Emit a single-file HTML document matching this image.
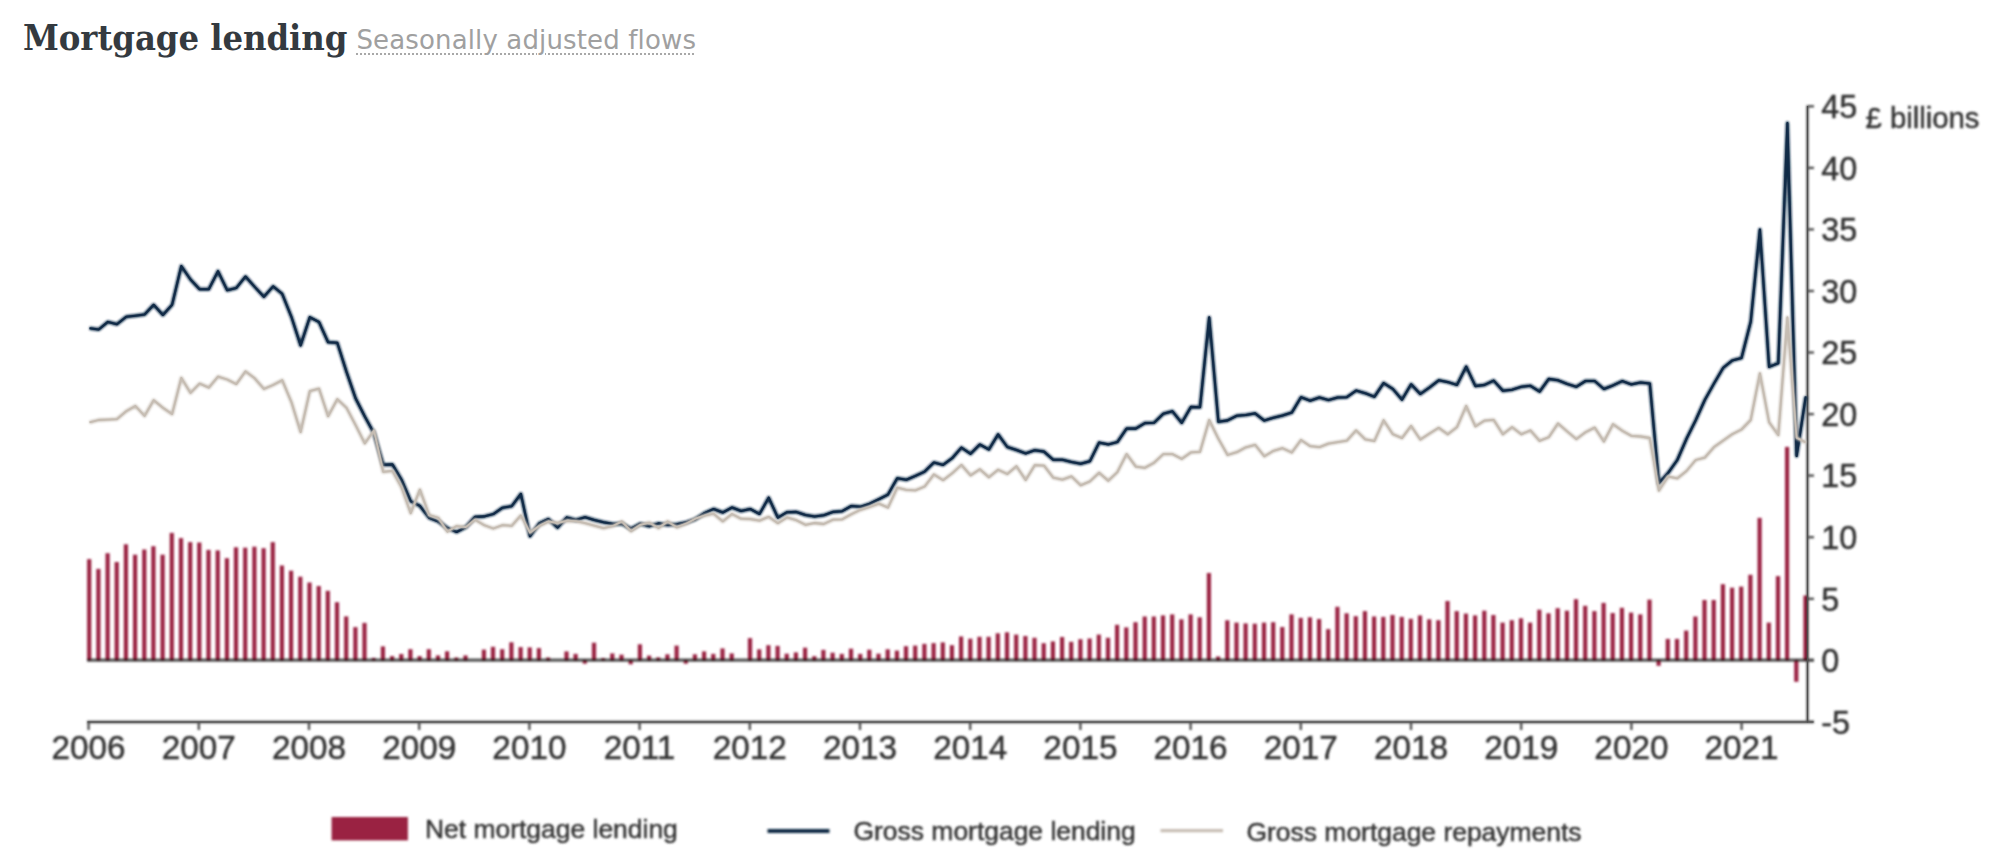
<!DOCTYPE html>
<html lang="en"><head><meta charset="utf-8"><title>Mortgage lending</title>
<style>
html,body{margin:0;padding:0;background:#fff;}
body{width:2002px;height:868px;position:relative;overflow:hidden;font-family:"Liberation Sans",Arial,sans-serif;}
h2{position:absolute;left:23px;top:11.5px;margin:0;font-family:"DejaVu Serif Condensed","DejaVu Serif","Liberation Serif",serif;font-stretch:condensed;font-weight:bold;font-size:36px;line-height:50px;color:#343a40;white-space:nowrap;letter-spacing:-0.05px;}
h2 small{font-family:"DejaVu Sans","Liberation Sans",sans-serif;font-stretch:normal;font-weight:normal;font-size:26px;color:#a0a0a0;letter-spacing:0.14px;position:relative;top:-0.5px;text-decoration:underline dotted #a8a8a8;text-decoration-thickness:1.5px;text-underline-offset:4px;margin-left:9px;}
svg{position:absolute;left:0;top:0;}
svg text{font-family:"Liberation Sans",Arial,sans-serif;fill:#333;stroke:#333;stroke-width:0.45px;}
</style></head><body>
<h2>Mortgage lending<small>Seasonally adjusted flows</small></h2>
<svg width="2002" height="868" viewBox="0 0 2002 868">
<g id="chart" filter="url(#soft)">
<g stroke="#4a4a4a" stroke-width="2.3" fill="none">
<line x1="87" y1="660.1999999999999" x2="1814" y2="660.1999999999999" stroke-width="3.3" stroke="#585858"/>
<line x1="87" y1="722" x2="1814" y2="722"/>
<line x1="1807.5" y1="105.5" x2="1807.5" y2="723"/>
<line x1="88.6" y1="722" x2="88.6" y2="730"/><line x1="198.8" y1="722" x2="198.8" y2="730"/><line x1="309.0" y1="722" x2="309.0" y2="730"/><line x1="419.2" y1="722" x2="419.2" y2="730"/><line x1="529.4" y1="722" x2="529.4" y2="730"/><line x1="639.6" y1="722" x2="639.6" y2="730"/><line x1="749.8" y1="722" x2="749.8" y2="730"/><line x1="860.0" y1="722" x2="860.0" y2="730"/><line x1="970.2" y1="722" x2="970.2" y2="730"/><line x1="1080.4" y1="722" x2="1080.4" y2="730"/><line x1="1190.6" y1="722" x2="1190.6" y2="730"/><line x1="1300.8" y1="722" x2="1300.8" y2="730"/><line x1="1411.0" y1="722" x2="1411.0" y2="730"/><line x1="1521.2" y1="722" x2="1521.2" y2="730"/><line x1="1631.4" y1="722" x2="1631.4" y2="730"/><line x1="1741.6" y1="722" x2="1741.6" y2="730"/>
<line x1="1807.5" y1="721.8" x2="1814" y2="721.8"/><line x1="1807.5" y1="660.3" x2="1814" y2="660.3"/><line x1="1807.5" y1="598.8" x2="1814" y2="598.8"/><line x1="1807.5" y1="537.2" x2="1814" y2="537.2"/><line x1="1807.5" y1="475.6" x2="1814" y2="475.6"/><line x1="1807.5" y1="414.1" x2="1814" y2="414.1"/><line x1="1807.5" y1="352.5" x2="1814" y2="352.5"/><line x1="1807.5" y1="291.0" x2="1814" y2="291.0"/><line x1="1807.5" y1="229.4" x2="1814" y2="229.4"/><line x1="1807.5" y1="167.9" x2="1814" y2="167.9"/><line x1="1807.5" y1="106.3" x2="1814" y2="106.3"/>
</g>
<g fill="#9a2443" style="mix-blend-mode:multiply"><rect x="87.1" y="559.1" width="4.2" height="101.7"/><rect x="96.3" y="568.9" width="4.2" height="91.9"/><rect x="105.5" y="553.2" width="4.2" height="107.6"/><rect x="114.6" y="562.0" width="4.2" height="98.8"/><rect x="123.8" y="544.3" width="4.2" height="116.5"/><rect x="133.0" y="554.7" width="4.2" height="106.1"/><rect x="142.2" y="549.5" width="4.2" height="111.3"/><rect x="151.3" y="546.2" width="4.2" height="114.6"/><rect x="160.5" y="554.7" width="4.2" height="106.1"/><rect x="169.7" y="532.9" width="4.2" height="127.9"/><rect x="178.9" y="538.1" width="4.2" height="122.7"/><rect x="188.1" y="542.1" width="4.2" height="118.7"/><rect x="197.2" y="542.5" width="4.2" height="118.3"/><rect x="206.4" y="549.9" width="4.2" height="110.9"/><rect x="215.6" y="550.4" width="4.2" height="110.4"/><rect x="224.8" y="558.2" width="4.2" height="102.6"/><rect x="233.9" y="547.3" width="4.2" height="113.5"/><rect x="243.1" y="547.7" width="4.2" height="113.1"/><rect x="252.3" y="546.7" width="4.2" height="114.1"/><rect x="261.5" y="548.2" width="4.2" height="112.6"/><rect x="270.7" y="542.1" width="4.2" height="118.7"/><rect x="279.8" y="565.5" width="4.2" height="95.3"/><rect x="289.0" y="570.7" width="4.2" height="90.1"/><rect x="298.2" y="576.7" width="4.2" height="84.1"/><rect x="307.4" y="582.5" width="4.2" height="78.3"/><rect x="316.6" y="586.0" width="4.2" height="74.8"/><rect x="325.7" y="590.8" width="4.2" height="70.0"/><rect x="334.9" y="602.2" width="4.2" height="58.6"/><rect x="344.1" y="616.4" width="4.2" height="44.4"/><rect x="353.3" y="627.1" width="4.2" height="33.7"/><rect x="362.4" y="622.9" width="4.2" height="37.9"/><rect x="371.6" y="657.9" width="4.2" height="2.9"/><rect x="380.8" y="646.4" width="4.2" height="14.4"/><rect x="390.0" y="656.1" width="4.2" height="4.7"/><rect x="399.2" y="654.0" width="4.2" height="6.8"/><rect x="408.3" y="649.2" width="4.2" height="11.6"/><rect x="417.5" y="656.1" width="4.2" height="4.7"/><rect x="426.7" y="649.2" width="4.2" height="11.6"/><rect x="435.9" y="655.4" width="4.2" height="5.4"/><rect x="445.0" y="651.3" width="4.2" height="9.5"/><rect x="454.2" y="657.5" width="4.2" height="3.3"/><rect x="463.4" y="655.4" width="4.2" height="5.4"/><rect x="481.8" y="649.6" width="4.2" height="11.2"/><rect x="490.9" y="646.8" width="4.2" height="14.0"/><rect x="500.1" y="649.2" width="4.2" height="11.6"/><rect x="509.3" y="642.3" width="4.2" height="18.5"/><rect x="518.5" y="647.1" width="4.2" height="13.7"/><rect x="527.6" y="647.4" width="4.2" height="13.4"/><rect x="536.8" y="648.1" width="4.2" height="12.7"/><rect x="546.0" y="657.5" width="4.2" height="3.3"/><rect x="564.4" y="651.4" width="4.2" height="9.4"/><rect x="573.5" y="653.9" width="4.2" height="6.9"/><rect x="582.7" y="659.8" width="4.2" height="3.9"/><rect x="591.9" y="642.7" width="4.2" height="18.1"/><rect x="601.1" y="658.1" width="4.2" height="2.7"/><rect x="610.2" y="653.4" width="4.2" height="7.4"/><rect x="619.4" y="654.7" width="4.2" height="6.1"/><rect x="628.6" y="659.8" width="4.2" height="4.5"/><rect x="637.8" y="644.3" width="4.2" height="16.5"/><rect x="647.0" y="655.6" width="4.2" height="5.2"/><rect x="656.1" y="657.4" width="4.2" height="3.4"/><rect x="665.3" y="654.3" width="4.2" height="6.5"/><rect x="674.5" y="645.6" width="4.2" height="15.2"/><rect x="683.7" y="659.8" width="4.2" height="3.9"/><rect x="692.8" y="654.3" width="4.2" height="6.5"/><rect x="702.0" y="651.4" width="4.2" height="9.4"/><rect x="711.2" y="653.9" width="4.2" height="6.9"/><rect x="720.4" y="648.4" width="4.2" height="12.4"/><rect x="729.6" y="653.4" width="4.2" height="7.4"/><rect x="747.9" y="638.1" width="4.2" height="22.7"/><rect x="757.1" y="649.3" width="4.2" height="11.5"/><rect x="766.3" y="645.2" width="4.2" height="15.6"/><rect x="775.5" y="645.9" width="4.2" height="14.9"/><rect x="784.6" y="653.7" width="4.2" height="7.1"/><rect x="793.8" y="652.4" width="4.2" height="8.4"/><rect x="803.0" y="647.7" width="4.2" height="13.1"/><rect x="812.2" y="656.2" width="4.2" height="4.6"/><rect x="821.3" y="649.9" width="4.2" height="10.9"/><rect x="830.5" y="652.7" width="4.2" height="8.1"/><rect x="839.7" y="653.9" width="4.2" height="6.9"/><rect x="848.9" y="648.7" width="4.2" height="12.1"/><rect x="858.1" y="653.9" width="4.2" height="6.9"/><rect x="867.2" y="649.7" width="4.2" height="11.1"/><rect x="876.4" y="653.7" width="4.2" height="7.1"/><rect x="885.6" y="649.3" width="4.2" height="11.5"/><rect x="894.8" y="650.6" width="4.2" height="10.2"/><rect x="903.9" y="646.2" width="4.2" height="14.6"/><rect x="913.1" y="645.6" width="4.2" height="15.2"/><rect x="922.3" y="643.9" width="4.2" height="16.9"/><rect x="931.5" y="643.1" width="4.2" height="17.7"/><rect x="940.7" y="642.4" width="4.2" height="18.4"/><rect x="949.8" y="645.2" width="4.2" height="15.6"/><rect x="959.0" y="636.5" width="4.2" height="24.3"/><rect x="968.2" y="638.7" width="4.2" height="22.1"/><rect x="977.4" y="636.8" width="4.2" height="24.0"/><rect x="986.5" y="636.8" width="4.2" height="24.0"/><rect x="995.7" y="633.3" width="4.2" height="27.5"/><rect x="1004.9" y="632.3" width="4.2" height="28.5"/><rect x="1014.1" y="634.6" width="4.2" height="26.2"/><rect x="1023.3" y="636.0" width="4.2" height="24.8"/><rect x="1032.4" y="637.8" width="4.2" height="23.0"/><rect x="1041.6" y="643.2" width="4.2" height="17.6"/><rect x="1050.8" y="641.4" width="4.2" height="19.4"/><rect x="1060.0" y="637.0" width="4.2" height="23.8"/><rect x="1069.1" y="641.8" width="4.2" height="19.0"/><rect x="1078.3" y="639.2" width="4.2" height="21.6"/><rect x="1087.5" y="638.5" width="4.2" height="22.3"/><rect x="1096.7" y="634.6" width="4.2" height="26.2"/><rect x="1105.9" y="637.8" width="4.2" height="23.0"/><rect x="1115.0" y="624.8" width="4.2" height="36.0"/><rect x="1124.2" y="627.4" width="4.2" height="33.4"/><rect x="1133.4" y="622.2" width="4.2" height="38.6"/><rect x="1142.6" y="616.5" width="4.2" height="44.3"/><rect x="1151.7" y="616.5" width="4.2" height="44.3"/><rect x="1160.9" y="615.4" width="4.2" height="45.4"/><rect x="1170.1" y="614.4" width="4.2" height="46.4"/><rect x="1179.3" y="619.3" width="4.2" height="41.5"/><rect x="1188.5" y="614.4" width="4.2" height="46.4"/><rect x="1197.6" y="617.3" width="4.2" height="43.5"/><rect x="1206.8" y="573.0" width="4.2" height="87.8"/><rect x="1216.0" y="656.5" width="4.2" height="4.3"/><rect x="1225.2" y="620.3" width="4.2" height="40.5"/><rect x="1234.4" y="622.6" width="4.2" height="38.2"/><rect x="1243.5" y="623.4" width="4.2" height="37.4"/><rect x="1252.7" y="623.7" width="4.2" height="37.1"/><rect x="1261.9" y="622.6" width="4.2" height="38.2"/><rect x="1271.1" y="622.2" width="4.2" height="38.6"/><rect x="1280.2" y="627.0" width="4.2" height="33.8"/><rect x="1289.4" y="614.4" width="4.2" height="46.4"/><rect x="1298.6" y="617.9" width="4.2" height="42.9"/><rect x="1307.8" y="617.3" width="4.2" height="43.5"/><rect x="1317.0" y="619.0" width="4.2" height="41.8"/><rect x="1326.1" y="629.1" width="4.2" height="31.7"/><rect x="1335.3" y="606.8" width="4.2" height="54.0"/><rect x="1344.5" y="613.3" width="4.2" height="47.5"/><rect x="1353.7" y="616.2" width="4.2" height="44.6"/><rect x="1362.8" y="611.1" width="4.2" height="49.7"/><rect x="1372.0" y="616.5" width="4.2" height="44.3"/><rect x="1381.2" y="616.9" width="4.2" height="43.9"/><rect x="1390.4" y="615.0" width="4.2" height="45.8"/><rect x="1399.6" y="616.9" width="4.2" height="43.9"/><rect x="1408.7" y="618.8" width="4.2" height="42.0"/><rect x="1417.9" y="615.4" width="4.2" height="45.4"/><rect x="1427.1" y="619.3" width="4.2" height="41.5"/><rect x="1436.3" y="620.2" width="4.2" height="40.6"/><rect x="1445.4" y="601.0" width="4.2" height="59.8"/><rect x="1454.6" y="611.1" width="4.2" height="49.7"/><rect x="1463.8" y="613.6" width="4.2" height="47.2"/><rect x="1473.0" y="615.4" width="4.2" height="45.4"/><rect x="1482.2" y="610.7" width="4.2" height="50.1"/><rect x="1491.3" y="615.0" width="4.2" height="45.8"/><rect x="1500.5" y="622.6" width="4.2" height="38.2"/><rect x="1509.7" y="620.2" width="4.2" height="40.6"/><rect x="1518.9" y="618.3" width="4.2" height="42.5"/><rect x="1528.0" y="622.6" width="4.2" height="38.2"/><rect x="1537.2" y="609.7" width="4.2" height="51.1"/><rect x="1546.4" y="613.3" width="4.2" height="47.5"/><rect x="1555.6" y="608.2" width="4.2" height="52.6"/><rect x="1564.8" y="610.7" width="4.2" height="50.1"/><rect x="1573.9" y="599.2" width="4.2" height="61.6"/><rect x="1583.1" y="605.8" width="4.2" height="55.0"/><rect x="1592.3" y="611.1" width="4.2" height="49.7"/><rect x="1601.5" y="602.9" width="4.2" height="57.9"/><rect x="1610.6" y="613.0" width="4.2" height="47.8"/><rect x="1619.8" y="607.8" width="4.2" height="53.0"/><rect x="1629.0" y="612.6" width="4.2" height="48.2"/><rect x="1638.2" y="614.4" width="4.2" height="46.4"/><rect x="1647.4" y="599.6" width="4.2" height="61.2"/><rect x="1656.5" y="659.8" width="4.2" height="6.0"/><rect x="1665.7" y="638.9" width="4.2" height="21.9"/><rect x="1674.9" y="638.9" width="4.2" height="21.9"/><rect x="1684.1" y="630.6" width="4.2" height="30.2"/><rect x="1693.3" y="616.5" width="4.2" height="44.3"/><rect x="1702.4" y="600.0" width="4.2" height="60.8"/><rect x="1711.6" y="600.0" width="4.2" height="60.8"/><rect x="1720.8" y="584.2" width="4.2" height="76.6"/><rect x="1730.0" y="587.7" width="4.2" height="73.1"/><rect x="1739.1" y="586.6" width="4.2" height="74.2"/><rect x="1748.3" y="574.8" width="4.2" height="86.0"/><rect x="1757.5" y="517.9" width="4.2" height="142.9"/><rect x="1766.7" y="622.6" width="4.2" height="38.2"/><rect x="1775.9" y="576.1" width="4.2" height="84.7"/><rect x="1785.0" y="446.9" width="4.2" height="213.9"/><rect x="1794.2" y="659.8" width="4.2" height="22.0"/><rect x="1803.4" y="595.5" width="4.2" height="65.3"/></g>
</g>
<g stroke="#505050" stroke-width="1.2" fill="none">
<line x1="87.5" y1="722" x2="1813.5" y2="722"/>
<line x1="1807.5" y1="106" x2="1807.5" y2="722.5"/>
</g>
<g filter="url(#soft)"><path d="M89.5,328.3 L98.7,329.5 L107.9,321.9 L117.0,324.2 L126.2,316.8 L135.4,315.7 L144.6,314.5 L153.7,304.8 L162.9,315.0 L172.1,304.8 L181.3,266.1 L190.5,279.5 L199.6,289.2 L208.8,289.2 L218.0,271.2 L227.2,290.3 L236.3,288.0 L245.5,276.5 L254.7,286.9 L263.9,296.8 L273.1,286.4 L282.2,293.8 L291.4,316.8 L300.6,345.4 L309.8,317.2 L319.0,322.0 L328.1,342.3 L337.3,342.8 L346.5,371.9 L355.7,398.6 L364.8,416.5 L374.0,433.3 L383.2,464.7 L392.4,464.4 L401.6,480.0 L410.7,501.2 L419.9,505.9 L429.1,517.8 L438.3,521.5 L447.4,528.0 L456.6,532.0 L465.8,527.1 L475.0,516.9 L484.2,516.4 L493.3,514.1 L502.5,507.7 L511.7,506.2 L520.9,493.9 L530.0,536.3 L539.2,523.4 L548.4,519.0 L557.6,527.6 L566.8,517.4 L575.9,520.0 L585.1,517.2 L594.3,520.0 L603.5,522.2 L612.6,523.9 L621.8,523.7 L631.0,528.7 L640.2,523.7 L649.4,526.2 L658.5,523.4 L667.7,524.9 L676.9,524.3 L686.1,522.4 L695.2,519.3 L704.4,513.1 L713.6,509.0 L722.8,512.5 L732.0,507.5 L741.1,511.0 L750.3,509.0 L759.5,514.0 L768.7,497.7 L777.9,517.7 L787.0,512.2 L796.2,511.9 L805.4,515.0 L814.6,516.5 L823.7,515.3 L832.9,511.9 L842.1,511.2 L851.3,506.0 L860.5,506.8 L869.6,503.8 L878.8,499.2 L888.0,494.6 L897.2,478.3 L906.3,479.8 L915.5,475.9 L924.7,471.6 L933.9,462.5 L943.1,464.9 L952.2,458.2 L961.4,447.6 L970.6,453.8 L979.8,444.5 L988.9,449.5 L998.1,434.4 L1007.3,447.0 L1016.5,450.0 L1025.7,453.4 L1034.8,450.2 L1044.0,451.6 L1053.2,459.8 L1062.4,459.8 L1071.5,462.0 L1080.7,463.7 L1089.9,461.3 L1099.1,442.6 L1108.3,444.4 L1117.4,442.1 L1126.6,428.6 L1135.8,428.6 L1145.0,423.1 L1154.1,422.8 L1163.3,413.8 L1172.5,411.3 L1181.7,422.9 L1190.9,406.9 L1200.0,407.2 L1209.2,317.4 L1218.4,421.8 L1227.6,420.4 L1236.8,415.7 L1245.9,415.0 L1255.1,413.4 L1264.3,420.6 L1273.5,417.7 L1282.6,415.5 L1291.8,412.6 L1301.0,397.2 L1310.2,400.7 L1319.4,397.5 L1328.5,400.1 L1337.7,397.5 L1346.9,397.2 L1356.1,390.6 L1365.2,393.2 L1374.4,396.8 L1383.6,383.1 L1392.8,388.9 L1402.0,399.7 L1411.1,384.3 L1420.3,394.0 L1429.5,387.5 L1438.7,380.3 L1447.8,382.1 L1457.0,384.9 L1466.2,366.6 L1475.4,386.1 L1484.6,384.9 L1493.7,380.6 L1502.9,390.7 L1512.1,389.7 L1521.3,386.8 L1530.4,385.8 L1539.6,391.6 L1548.8,378.9 L1558.0,380.3 L1567.2,383.9 L1576.3,386.8 L1585.5,381.0 L1594.7,381.0 L1603.9,389.0 L1613.0,385.4 L1622.2,381.1 L1631.4,384.4 L1640.6,382.5 L1649.8,383.5 L1658.9,483.3 L1668.1,472.9 L1677.3,460.0 L1686.5,438.8 L1695.7,420.3 L1704.8,400.0 L1714.0,383.5 L1723.2,367.8 L1732.4,360.4 L1741.5,358.0 L1750.7,321.8 L1759.9,229.6 L1769.1,366.9 L1778.3,363.2 L1787.4,123.0 L1796.6,456.0 L1805.8,396.4" fill="none" stroke="#112b47" stroke-width="3.5" stroke-linejoin="round" stroke-linecap="butt"/></g>
<path d="M89.5,328.3 L98.7,329.5 L107.9,321.9 L117.0,324.2 L126.2,316.8 L135.4,315.7 L144.6,314.5 L153.7,304.8 L162.9,315.0 L172.1,304.8 L181.3,266.1 L190.5,279.5 L199.6,289.2 L208.8,289.2 L218.0,271.2 L227.2,290.3 L236.3,288.0 L245.5,276.5 L254.7,286.9 L263.9,296.8 L273.1,286.4 L282.2,293.8 L291.4,316.8 L300.6,345.4 L309.8,317.2 L319.0,322.0 L328.1,342.3 L337.3,342.8 L346.5,371.9 L355.7,398.6 L364.8,416.5 L374.0,433.3 L383.2,464.7 L392.4,464.4 L401.6,480.0 L410.7,501.2 L419.9,505.9 L429.1,517.8 L438.3,521.5 L447.4,528.0 L456.6,532.0 L465.8,527.1 L475.0,516.9 L484.2,516.4 L493.3,514.1 L502.5,507.7 L511.7,506.2 L520.9,493.9 L530.0,536.3 L539.2,523.4 L548.4,519.0 L557.6,527.6 L566.8,517.4 L575.9,520.0 L585.1,517.2 L594.3,520.0 L603.5,522.2 L612.6,523.9 L621.8,523.7 L631.0,528.7 L640.2,523.7 L649.4,526.2 L658.5,523.4 L667.7,524.9 L676.9,524.3 L686.1,522.4 L695.2,519.3 L704.4,513.1 L713.6,509.0 L722.8,512.5 L732.0,507.5 L741.1,511.0 L750.3,509.0 L759.5,514.0 L768.7,497.7 L777.9,517.7 L787.0,512.2 L796.2,511.9 L805.4,515.0 L814.6,516.5 L823.7,515.3 L832.9,511.9 L842.1,511.2 L851.3,506.0 L860.5,506.8 L869.6,503.8 L878.8,499.2 L888.0,494.6 L897.2,478.3 L906.3,479.8 L915.5,475.9 L924.7,471.6 L933.9,462.5 L943.1,464.9 L952.2,458.2 L961.4,447.6 L970.6,453.8 L979.8,444.5 L988.9,449.5 L998.1,434.4 L1007.3,447.0 L1016.5,450.0 L1025.7,453.4 L1034.8,450.2 L1044.0,451.6 L1053.2,459.8 L1062.4,459.8 L1071.5,462.0 L1080.7,463.7 L1089.9,461.3 L1099.1,442.6 L1108.3,444.4 L1117.4,442.1 L1126.6,428.6 L1135.8,428.6 L1145.0,423.1 L1154.1,422.8 L1163.3,413.8 L1172.5,411.3 L1181.7,422.9 L1190.9,406.9 L1200.0,407.2 L1209.2,317.4 L1218.4,421.8 L1227.6,420.4 L1236.8,415.7 L1245.9,415.0 L1255.1,413.4 L1264.3,420.6 L1273.5,417.7 L1282.6,415.5 L1291.8,412.6 L1301.0,397.2 L1310.2,400.7 L1319.4,397.5 L1328.5,400.1 L1337.7,397.5 L1346.9,397.2 L1356.1,390.6 L1365.2,393.2 L1374.4,396.8 L1383.6,383.1 L1392.8,388.9 L1402.0,399.7 L1411.1,384.3 L1420.3,394.0 L1429.5,387.5 L1438.7,380.3 L1447.8,382.1 L1457.0,384.9 L1466.2,366.6 L1475.4,386.1 L1484.6,384.9 L1493.7,380.6 L1502.9,390.7 L1512.1,389.7 L1521.3,386.8 L1530.4,385.8 L1539.6,391.6 L1548.8,378.9 L1558.0,380.3 L1567.2,383.9 L1576.3,386.8 L1585.5,381.0 L1594.7,381.0 L1603.9,389.0 L1613.0,385.4 L1622.2,381.1 L1631.4,384.4 L1640.6,382.5 L1649.8,383.5 L1658.9,483.3 L1668.1,472.9 L1677.3,460.0 L1686.5,438.8 L1695.7,420.3 L1704.8,400.0 L1714.0,383.5 L1723.2,367.8 L1732.4,360.4 L1741.5,358.0 L1750.7,321.8 L1759.9,229.6 L1769.1,366.9 L1778.3,363.2 L1787.4,123.0 L1796.6,456.0 L1805.8,396.4" fill="none" stroke="#112b47" stroke-width="2.1" stroke-linejoin="round" stroke-linecap="butt"/>
<g filter="url(#soft)"><path d="M89.5,422.4 L98.7,420.0 L107.9,419.6 L117.0,419.1 L126.2,411.3 L135.4,406.0 L144.6,415.9 L153.7,400.2 L162.9,407.8 L172.1,414.1 L181.3,377.9 L190.5,392.9 L199.6,383.6 L208.8,387.6 L218.0,376.7 L227.2,379.5 L236.3,384.1 L245.5,371.4 L254.7,378.3 L263.9,388.9 L273.1,385.0 L282.2,380.2 L291.4,402.1 L300.6,432.1 L309.8,391.2 L319.0,388.6 L328.1,416.2 L337.3,399.2 L346.5,407.8 L355.7,425.3 L364.8,443.4 L374.0,430.4 L383.2,471.8 L392.4,470.8 L401.6,487.4 L410.7,513.2 L419.9,489.6 L429.1,515.1 L438.3,517.8 L447.4,531.7 L456.6,526.1 L465.8,527.1 L475.0,519.7 L484.2,525.2 L493.3,528.5 L502.5,525.2 L511.7,525.8 L520.9,515.4 L530.0,532.6 L539.2,526.1 L548.4,521.5 L557.6,522.9 L566.8,520.8 L575.9,521.2 L585.1,523.1 L594.3,525.6 L603.5,528.1 L612.6,526.2 L621.8,521.4 L631.0,531.2 L640.2,524.9 L649.4,522.7 L658.5,528.1 L667.7,521.4 L676.9,527.4 L686.1,523.7 L695.2,518.7 L704.4,515.6 L713.6,513.7 L722.8,521.4 L732.0,514.0 L741.1,518.7 L750.3,519.0 L759.5,520.6 L768.7,516.8 L777.9,523.2 L787.0,517.4 L796.2,520.1 L805.4,524.8 L814.6,523.0 L823.7,524.0 L832.9,519.7 L842.1,519.4 L851.3,514.3 L860.5,509.8 L869.6,507.0 L878.8,503.6 L888.0,507.6 L897.2,487.7 L906.3,489.8 L915.5,490.3 L924.7,486.5 L933.9,474.4 L943.1,480.2 L952.2,473.3 L961.4,464.9 L970.6,475.4 L979.8,469.3 L988.9,477.3 L998.1,469.7 L1007.3,474.0 L1016.5,466.3 L1025.7,480.0 L1034.8,465.2 L1044.0,465.6 L1053.2,477.6 L1062.4,479.6 L1071.5,476.4 L1080.7,485.3 L1089.9,481.4 L1099.1,472.8 L1108.3,480.7 L1117.4,472.1 L1126.6,454.1 L1135.8,466.6 L1145.0,467.8 L1154.1,462.7 L1163.3,454.1 L1172.5,454.1 L1181.7,458.9 L1190.9,452.4 L1200.0,451.9 L1209.2,420.0 L1218.4,438.8 L1227.6,455.0 L1236.8,452.2 L1245.9,447.3 L1255.1,444.8 L1264.3,456.3 L1273.5,450.8 L1282.6,448.2 L1291.8,452.5 L1301.0,440.0 L1310.2,446.2 L1319.4,447.2 L1328.5,443.6 L1337.7,442.2 L1346.9,440.7 L1356.1,430.4 L1365.2,439.3 L1374.4,441.0 L1383.6,420.3 L1392.8,434.2 L1402.0,438.1 L1411.1,425.9 L1420.3,439.6 L1429.5,433.6 L1438.7,427.8 L1447.8,434.3 L1457.0,427.1 L1466.2,406.0 L1475.4,426.4 L1484.6,420.6 L1493.7,419.9 L1502.9,434.3 L1512.1,427.1 L1521.3,434.3 L1530.4,430.4 L1539.6,440.8 L1548.8,437.2 L1558.0,423.5 L1567.2,431.4 L1576.3,439.1 L1585.5,432.2 L1594.7,427.6 L1603.9,441.5 L1613.0,424.2 L1622.2,430.7 L1631.4,435.9 L1640.6,436.5 L1649.8,438.0 L1658.9,490.6 L1668.1,476.5 L1677.3,478.4 L1686.5,471.0 L1695.7,460.0 L1704.8,457.6 L1714.0,447.1 L1723.2,440.6 L1732.4,434.1 L1741.5,429.5 L1750.7,420.0 L1759.9,373.3 L1769.1,422.2 L1778.3,435.1 L1787.4,317.5 L1796.6,437.8 L1805.8,442.4" fill="none" stroke="#c6bdb3" stroke-width="3.3" stroke-linejoin="round" stroke-linecap="butt"/></g>
<path d="M89.5,422.4 L98.7,420.0 L107.9,419.6 L117.0,419.1 L126.2,411.3 L135.4,406.0 L144.6,415.9 L153.7,400.2 L162.9,407.8 L172.1,414.1 L181.3,377.9 L190.5,392.9 L199.6,383.6 L208.8,387.6 L218.0,376.7 L227.2,379.5 L236.3,384.1 L245.5,371.4 L254.7,378.3 L263.9,388.9 L273.1,385.0 L282.2,380.2 L291.4,402.1 L300.6,432.1 L309.8,391.2 L319.0,388.6 L328.1,416.2 L337.3,399.2 L346.5,407.8 L355.7,425.3 L364.8,443.4 L374.0,430.4 L383.2,471.8 L392.4,470.8 L401.6,487.4 L410.7,513.2 L419.9,489.6 L429.1,515.1 L438.3,517.8 L447.4,531.7 L456.6,526.1 L465.8,527.1 L475.0,519.7 L484.2,525.2 L493.3,528.5 L502.5,525.2 L511.7,525.8 L520.9,515.4 L530.0,532.6 L539.2,526.1 L548.4,521.5 L557.6,522.9 L566.8,520.8 L575.9,521.2 L585.1,523.1 L594.3,525.6 L603.5,528.1 L612.6,526.2 L621.8,521.4 L631.0,531.2 L640.2,524.9 L649.4,522.7 L658.5,528.1 L667.7,521.4 L676.9,527.4 L686.1,523.7 L695.2,518.7 L704.4,515.6 L713.6,513.7 L722.8,521.4 L732.0,514.0 L741.1,518.7 L750.3,519.0 L759.5,520.6 L768.7,516.8 L777.9,523.2 L787.0,517.4 L796.2,520.1 L805.4,524.8 L814.6,523.0 L823.7,524.0 L832.9,519.7 L842.1,519.4 L851.3,514.3 L860.5,509.8 L869.6,507.0 L878.8,503.6 L888.0,507.6 L897.2,487.7 L906.3,489.8 L915.5,490.3 L924.7,486.5 L933.9,474.4 L943.1,480.2 L952.2,473.3 L961.4,464.9 L970.6,475.4 L979.8,469.3 L988.9,477.3 L998.1,469.7 L1007.3,474.0 L1016.5,466.3 L1025.7,480.0 L1034.8,465.2 L1044.0,465.6 L1053.2,477.6 L1062.4,479.6 L1071.5,476.4 L1080.7,485.3 L1089.9,481.4 L1099.1,472.8 L1108.3,480.7 L1117.4,472.1 L1126.6,454.1 L1135.8,466.6 L1145.0,467.8 L1154.1,462.7 L1163.3,454.1 L1172.5,454.1 L1181.7,458.9 L1190.9,452.4 L1200.0,451.9 L1209.2,420.0 L1218.4,438.8 L1227.6,455.0 L1236.8,452.2 L1245.9,447.3 L1255.1,444.8 L1264.3,456.3 L1273.5,450.8 L1282.6,448.2 L1291.8,452.5 L1301.0,440.0 L1310.2,446.2 L1319.4,447.2 L1328.5,443.6 L1337.7,442.2 L1346.9,440.7 L1356.1,430.4 L1365.2,439.3 L1374.4,441.0 L1383.6,420.3 L1392.8,434.2 L1402.0,438.1 L1411.1,425.9 L1420.3,439.6 L1429.5,433.6 L1438.7,427.8 L1447.8,434.3 L1457.0,427.1 L1466.2,406.0 L1475.4,426.4 L1484.6,420.6 L1493.7,419.9 L1502.9,434.3 L1512.1,427.1 L1521.3,434.3 L1530.4,430.4 L1539.6,440.8 L1548.8,437.2 L1558.0,423.5 L1567.2,431.4 L1576.3,439.1 L1585.5,432.2 L1594.7,427.6 L1603.9,441.5 L1613.0,424.2 L1622.2,430.7 L1631.4,435.9 L1640.6,436.5 L1649.8,438.0 L1658.9,490.6 L1668.1,476.5 L1677.3,478.4 L1686.5,471.0 L1695.7,460.0 L1704.8,457.6 L1714.0,447.1 L1723.2,440.6 L1732.4,434.1 L1741.5,429.5 L1750.7,420.0 L1759.9,373.3 L1769.1,422.2 L1778.3,435.1 L1787.4,317.5 L1796.6,437.8 L1805.8,442.4" fill="none" stroke="#c6bdb3" stroke-width="1.8" stroke-linejoin="round" stroke-linecap="butt"/>
<g>
</g><g filter="url(#soft)">
<g font-size="33.3"><text x="88.6" y="759" text-anchor="middle">2006</text><text x="198.8" y="759" text-anchor="middle">2007</text><text x="309.0" y="759" text-anchor="middle">2008</text><text x="419.2" y="759" text-anchor="middle">2009</text><text x="529.4" y="759" text-anchor="middle">2010</text><text x="639.6" y="759" text-anchor="middle">2011</text><text x="749.8" y="759" text-anchor="middle">2012</text><text x="860.0" y="759" text-anchor="middle">2013</text><text x="970.2" y="759" text-anchor="middle">2014</text><text x="1080.4" y="759" text-anchor="middle">2015</text><text x="1190.6" y="759" text-anchor="middle">2016</text><text x="1300.8" y="759" text-anchor="middle">2017</text><text x="1411.0" y="759" text-anchor="middle">2018</text><text x="1521.2" y="759" text-anchor="middle">2019</text><text x="1631.4" y="759" text-anchor="middle">2020</text><text x="1741.6" y="759" text-anchor="middle">2021</text></g>
<g font-size="32.4"><text x="1821.3" y="733.6">-5</text><text x="1821.3" y="672.1">0</text><text x="1821.3" y="610.5">5</text><text x="1821.3" y="549.0">10</text><text x="1821.3" y="487.4">15</text><text x="1821.3" y="425.9">20</text><text x="1821.3" y="364.3">25</text><text x="1821.3" y="302.8">30</text><text x="1821.3" y="241.2">35</text><text x="1821.3" y="179.7">40</text><text x="1821.3" y="118.1">45</text></g>
<text x="1865.5" y="127.6" font-size="29.3">£ billions</text>
<rect x="331.6" y="817" width="76.3" height="23.4" fill="#9a2443"/>
<text x="425" y="838" font-size="26.45">Net mortgage lending</text>
<line x1="767.5" y1="831" x2="829.5" y2="831" stroke="#0f2a45" stroke-width="3.8"/>
<text x="853.5" y="840.4" font-size="26.45">Gross mortgage lending</text>
<line x1="1160.5" y1="830.6" x2="1223" y2="830.6" stroke="#c7beb4" stroke-width="3.4"/>
<text x="1246.5" y="840.8" font-size="26.45">Gross mortgage repayments</text>
</g>
<defs><filter id="soft" x="0" y="0" width="2002" height="868" filterUnits="userSpaceOnUse"><feGaussianBlur stdDeviation="0.95"/></filter></defs>
</svg>
</body></html>
